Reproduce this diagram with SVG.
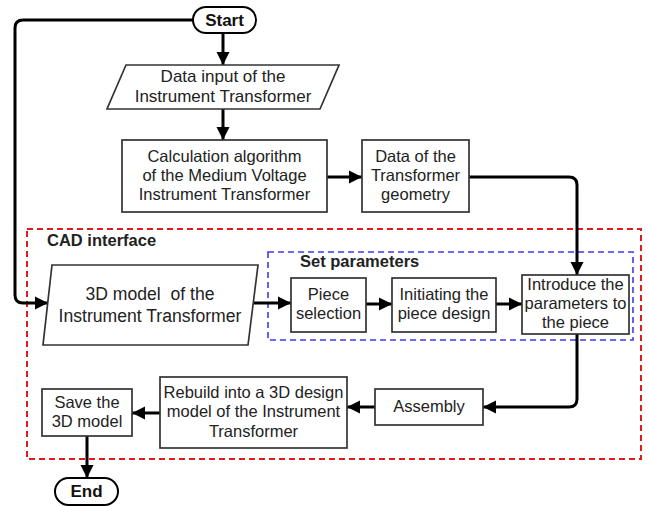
<svg xmlns="http://www.w3.org/2000/svg" width="649" height="506" viewBox="0 0 649 506">
  <defs>
    <style>
      .box { fill: #ffffff; stroke: #333333; stroke-width: 1.7; }
      .pill { fill: #ffffff; stroke: #000000; stroke-width: 2; }
      .lbl { font-family: "Liberation Sans", Arial, sans-serif; font-size: 16.5px; fill: #222222; text-anchor: middle; }
      .big { font-size: 17px; }
      .bigger { font-size: 17.6px; }
      .bold { font-weight: bold; fill: #111111; }
      .title { font-family: "Liberation Sans", Arial, sans-serif; font-size: 16.5px; font-weight: bold; fill: #222222; }
      .edge { fill: none; stroke: #000000; stroke-width: 3; marker-end: url(#arrow); }
      .cad { fill: none; stroke: #e01b1b; stroke-width: 2; stroke-dasharray: 6 4; }
      .params { fill: none; stroke: #3b3bf0; stroke-width: 1.6; stroke-dasharray: 6 4; }
    </style>
    <marker id="arrow" markerUnits="userSpaceOnUse" markerWidth="14" markerHeight="14" viewBox="0 0 14 14" refX="13" refY="7" orient="auto">
      <path d="M0,0.5 L13,7 L0,13.5 Z" fill="#000000"/>
    </marker>
  </defs>

  <!-- grouping frames -->
  <g id="cad-interface">
    <rect class="cad" x="27" y="229" width="614" height="230"/>
    <text class="title" x="47" y="246">CAD interface</text>
  </g>
  <g id="set-parameters">
    <rect class="params" x="268" y="252" width="365" height="88"/>
    <text class="title" x="300" y="267">Set parameters</text>
  </g>

  <!-- connectors -->
  <g id="connectors">
    <path class="edge" d="M223,33 V65"/>
    <path class="edge" d="M223,109 V140"/>
    <path class="edge" d="M327,177 H362"/>
    <path class="edge" d="M469,177 H569 Q577,177 577,185 V275"/>
    <path class="edge" d="M193,20 H23 Q15,20 15,28 V295 Q15,303 23,303 H48"/>
    <path class="edge" d="M253,303 H291"/>
    <path class="edge" d="M366,304 H392"/>
    <path class="edge" d="M496,304 H522"/>
    <path class="edge" d="M577,334 V399 Q577,407 569,407 H483"/>
    <path class="edge" d="M375,407 H347"/>
    <path class="edge" d="M160,413 H132"/>
    <path class="edge" d="M87,436 V478"/>
  </g>

  <!-- nodes -->
  <g id="start">
    <rect class="pill" x="193" y="7" width="63" height="26" rx="13" ry="13"/>
    <text class="lbl bold big" x="224.5" y="26">Start</text>
  </g>

  <g id="data-input">
    <polygon class="box" points="126,65 339,65 320,109 107,109"/>
    <text class="lbl big" x="223" y="82">Data input of the</text>
    <text class="lbl big" x="223" y="102">Instrument Transformer</text>
  </g>

  <g id="calculation">
    <rect class="box" x="122" y="140" width="205" height="72"/>
    <text class="lbl" x="224.5" y="162">Calculation algorithm</text>
    <text class="lbl" x="224.5" y="181">of the Medium Voltage</text>
    <text class="lbl" x="224.5" y="200">Instrument Transformer</text>
  </g>

  <g id="geometry">
    <rect class="box" x="362" y="140" width="107" height="72"/>
    <text class="lbl" x="415.5" y="162">Data of the</text>
    <text class="lbl" x="415.5" y="181">Transformer</text>
    <text class="lbl" x="415.5" y="200">geometry</text>
  </g>

  <g id="model-3d">
    <polygon class="box" points="52,265 258,265 248,345 43,345"/>
    <text class="lbl bigger" x="150" y="300" xml:space="preserve">3D model  of the</text>
    <text class="lbl bigger" x="150" y="322">Instrument Transformer</text>
  </g>

  <g id="piece-selection">
    <rect class="box" x="291" y="278" width="75" height="54"/>
    <text class="lbl" x="328.5" y="300">Piece</text>
    <text class="lbl" x="328.5" y="319">selection</text>
  </g>

  <g id="initiating">
    <rect class="box" x="392" y="278" width="104" height="54"/>
    <text class="lbl" x="444" y="300">Initiating the</text>
    <text class="lbl" x="444" y="319">piece design</text>
  </g>

  <g id="introduce">
    <rect class="box" x="522" y="275" width="107" height="59"/>
    <text class="lbl" x="575.5" y="290">Introduce the</text>
    <text class="lbl" x="575.5" y="309">parameters to</text>
    <text class="lbl" x="575.5" y="328">the piece</text>
  </g>

  <g id="assembly">
    <rect class="box" x="375" y="389" width="108" height="36"/>
    <text class="lbl" x="429" y="412">Assembly</text>
  </g>

  <g id="rebuild">
    <rect class="box" x="160" y="377" width="187" height="71"/>
    <text class="lbl" x="253.5" y="398">Rebuild into a 3D design</text>
    <text class="lbl" x="253.5" y="417">model of the Instrument</text>
    <text class="lbl" x="253.5" y="437">Transformer</text>
  </g>

  <g id="save">
    <rect class="box" x="42" y="389" width="90" height="47"/>
    <text class="lbl" x="87" y="408">Save the</text>
    <text class="lbl" x="87" y="427">3D model</text>
  </g>

  <g id="end">
    <rect class="pill" x="55" y="478" width="63" height="27" rx="13.5" ry="13.5"/>
    <text class="lbl bold big" x="86.5" y="497">End</text>
  </g>
</svg>
